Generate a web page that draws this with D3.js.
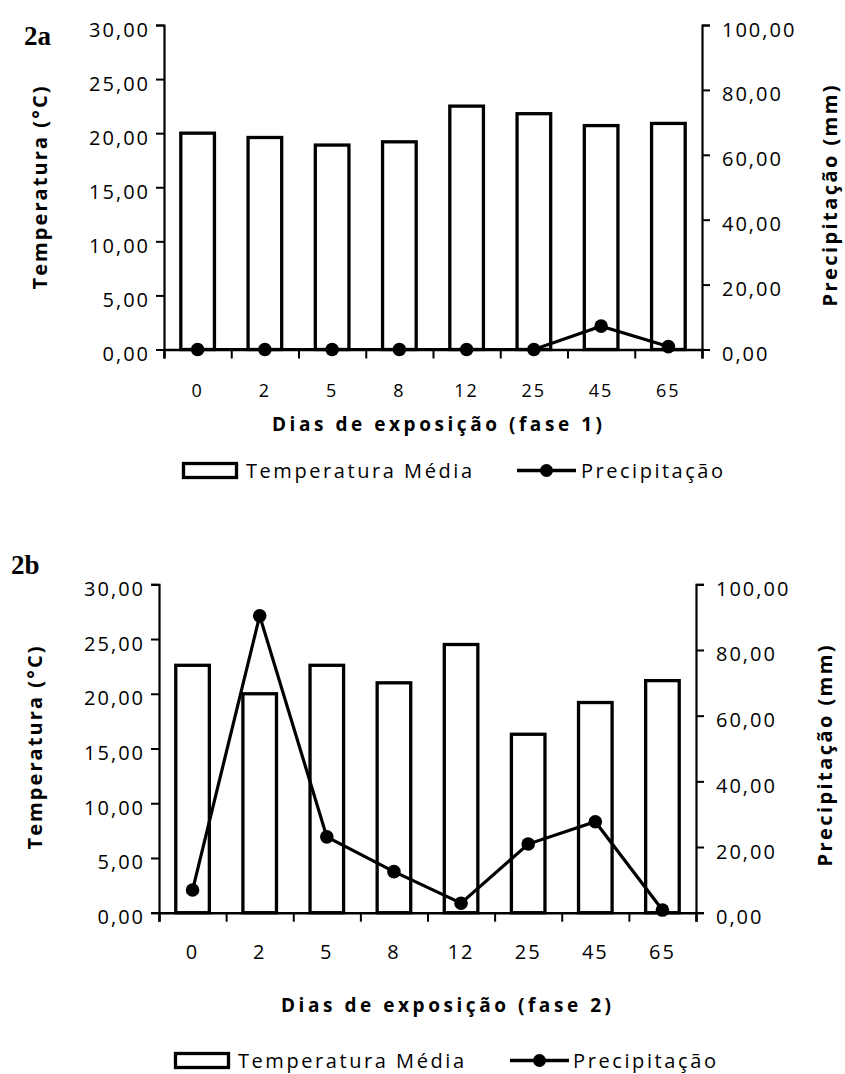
<!DOCTYPE html>
<html><head><meta charset="utf-8">
<script src="https://cdn.jsdelivr.net/npm/d3@7"></script>
<style>
body{margin:0;background:#fff;}
svg{display:block;}
</style></head>
<body>
<svg id="c" width="845" height="1074"></svg>
<script>
// ---- data ----
const days = ["0","2","5","8","12","25","45","65"];
const tempA = [20.0, 19.6, 18.9, 19.2, 22.5, 21.8, 20.7, 20.9];
const precA = [0, 0, 0, 0, 0, 0, 7.2, 0.9];
const tempB = [22.6, 20.0, 22.6, 21.0, 24.5, 16.3, 19.2, 21.2];
const precB = [6.9, 90.4, 23.1, 12.5, 2.9, 20.9, 27.7, 0.8];
const tempTicks = [0,5,10,15,20,25,30];
const precTicks = [0,20,40,60,80,100];
const xTitleA = "Dias de exposição (fase 1)";
const xTitleB = "Dias de exposição (fase 2)";
const yTitleL = "Temperatura (°C)";
const yTitleR = "Precipitação (mm)";
const legTemp = "Temperatura  Média";
const legPrec = "Precipitação";

const svg = d3.select("#c");
const SANS = "'Open Sans', sans-serif";
const fmt = d => d3.format(".2f")(d).replace(".", ",");

function panel(o){
  const g = svg.append("g");
  const x = d3.scaleBand().domain(days).range([o.left,o.right]).paddingInner(0.5).paddingOuter(0.25);
  const edges = d3.scaleLinear().domain([0,days.length]).range([o.left,o.right]);
  const yL = d3.scaleLinear().domain([0,30]).range([o.bottom,o.top]);
  const yR = d3.scaleLinear().domain([0,100]).range([o.bottom,o.top]);

  // bars
  g.selectAll("rect.bar").data(o.temp).join("rect")
    .attr("x",(d,i)=>x(days[i])).attr("width",x.bandwidth())
    .attr("y",d=>yL(d)).attr("height",d=>o.bottom-yL(d))
    .attr("fill","#fff").attr("stroke","#000").attr("stroke-width",3.3);

  // left axis
  const ax = g.append("g").attr("transform",`translate(${o.left},0)`)
    .call(d3.axisLeft(yL).tickValues(tempTicks).tickSize(8).tickPadding(6).tickFormat(fmt));
  ax.select(".domain").attr("stroke-width",2.2);
  ax.selectAll(".tick line").attr("stroke-width",2);
  ax.selectAll(".tick text").style("font-size","20px").style("letter-spacing","2px").attr("dy","0.55em")
     .style("font-family",SANS).attr("fill","#000");

  // right axis
  const ar = g.append("g").attr("transform",`translate(${o.right},0)`)
    .call(d3.axisRight(yR).tickValues(precTicks).tickSize(8).tickPadding(12).tickFormat(fmt));
  ar.select(".domain").attr("stroke-width",2.2);
  ar.selectAll(".tick line").attr("stroke-width",2);
  ar.selectAll(".tick text").style("font-size","20px").style("letter-spacing","2px").attr("dy","0.55em")
     .style("font-family",SANS).attr("fill","#000");

  // bottom axis: ticks at band edges
  const ab = g.append("g").attr("transform",`translate(0,${o.bottom})`)
    .call(d3.axisBottom(edges).ticks(days.length).tickSize(9).tickFormat(""));
  ab.select(".domain").attr("stroke-width",2.5);
  ab.selectAll(".tick line").attr("stroke-width",2);
  // category labels
  const al = g.append("g").attr("transform",`translate(0,${o.bottom})`)
    .call(d3.axisBottom(x).tickSize(0).tickPadding(0));
  al.select(".domain").remove();
  al.selectAll(".tick text").style("font-size",o.xfs+"px").style("letter-spacing","2px")
    .style("font-family",SANS).attr("fill","#000")
    .attr("y",o.xlab-o.bottom).attr("dy",0);

  // precipitation line
  const pts = o.prec.map((d,i)=>[x(days[i])+x.bandwidth()/2, yR(d)]);
  g.append("path").attr("d",d3.line()(pts)).attr("fill","none").attr("stroke","#000").attr("stroke-width",3.2);
  g.selectAll("circle.pt").data(pts).join("circle")
    .attr("cx",d=>d[0]).attr("cy",d=>d[1]).attr("r",6.8).attr("fill","#000");

  const T = (sel)=>sel.style("font-family",SANS).attr("fill","#000");
  // titles
  T(g.append("text")).attr("x",o.xtx).attr("y",o.xty).attr("text-anchor","middle")
    .style("font-size","19px").style("font-weight","bold").attr("textLength",330).attr("lengthAdjust","spacing")
    .text(o.xtitle);
  T(g.append("text")).attr("transform",`translate(${o.ylx},${o.ymid}) rotate(-90)`).attr("text-anchor","middle")
    .style("font-size","20px").style("font-weight","bold").attr("textLength",203).attr("lengthAdjust","spacing")
    .text(yTitleL);
  T(g.append("text")).attr("transform",`translate(${o.yrx},${o.ymid+8}) rotate(-90)`).attr("text-anchor","middle")
    .style("font-size","20px").style("font-weight","bold").attr("textLength",221).attr("lengthAdjust","spacing")
    .text(yTitleR);

  // panel label
  g.append("text").attr("x",o.labx).attr("y",o.laby).style("font-family","'Liberation Serif', serif")
    .style("font-size","27px").style("font-weight","bold").attr("fill","#000").text(o.label);

  // legend
  const L = o.leg;
  g.append("rect").attr("x",L.rx+1.5).attr("y",L.ry+1.5).attr("width",53).attr("height",14)
    .attr("fill","#fff").attr("stroke","#000").attr("stroke-width",3.3);
  T(g.append("text")).attr("x",L.t1).attr("y",L.base).style("font-size","20px")
    .attr("textLength",L.t1w).attr("lengthAdjust","spacing").text(legTemp);
  g.append("line").attr("x1",L.lx).attr("x2",L.lx+59).attr("y1",L.ry+8.5).attr("y2",L.ry+8.5)
    .attr("stroke","#000").attr("stroke-width",3.3);
  g.append("circle").attr("cx",L.lx+29.5).attr("cy",L.ry+8.5).attr("r",6.5).attr("fill","#000");
  T(g.append("text")).attr("x",L.t2).attr("y",L.base).style("font-size","20px")
    .attr("textLength",L.t2w).attr("lengthAdjust","spacing").text(legPrec);
}

panel({left:164,right:702,top:25,bottom:349.5,temp:tempA,prec:precA,xfs:18,xlab:397,
  xtitle:xTitleA,xtx:437,xty:431,ylx:47,yrx:837,ymid:188,label:"2a",labx:24,laby:45,
  leg:{rx:182,ry:462,t1:246,t1w:226,lx:517,t2:581,t2w:142,base:478}});
panel({left:159,right:696,top:584.3,bottom:912.7,temp:tempB,prec:precB,xfs:20,xlab:959,
  xtitle:xTitleB,xtx:446,xty:1012,ylx:42,yrx:832,ymid:748,label:"2b",labx:11,laby:574,
  leg:{rx:174,ry:1052,t1:238,t1w:226,lx:510,t2:573,t2w:143,base:1068}});
</script>
</body></html>
